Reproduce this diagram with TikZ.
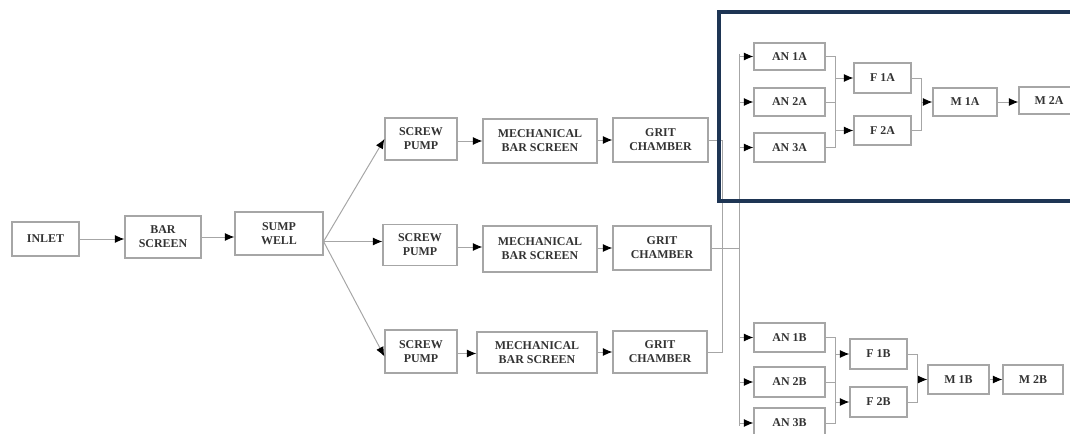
\documentclass[tikz,border=0pt]{standalone}
\usepackage{fontspec}
\setmainfont{Liberation Serif}
\usetikzlibrary{calc,arrows.meta}
\definecolor{navy}{HTML}{1E3554}

\begin{document}
\begin{tikzpicture}[x=0.25mm,y=-0.25mm,
    blk/.style 2 args={draw=gray!70, line width=0.8pt, text=black!80,
        font=\bfseries\fontsize{8.5}{10}\selectfont, align=center, inner sep=0pt,
        minimum width=#1*0.25mm, minimum height=#2*0.25mm},
    flow/.style={draw=gray!70, line width=0.7pt},
    arr/.style={flow, -{Latex[length=2.4mm,width=2mm,black]}}]
    \useasboundingbox (0,0) rectangle (1070,434);
    \clip (0,0) rectangle (1070,434);

    % intake
    \node[blk={67}{34}] (inlet) at (45.5,239) {INLET};
    \node[blk={76}{42}] (barscr) at (163,237) {BAR\\SCREEN};
    \node[blk={88}{43}] (sump) at (279,233.5) {SUMP\\WELL};
    \draw[arr] (inlet.east) -- (inlet.east -| barscr.west);
    \draw[arr] (barscr.east) -- (barscr.east -| sump.west);
    \coordinate (fan) at ($(sump.east)+(0,8)$);

    % three screening lines
    \node[blk={72}{42}] (pump1) at (421,139) {SCREW\\PUMP};
    \node[blk={114}{44}] (mech1) at (540,141) {MECHANICAL\\BAR SCREEN};
    \node[blk={95}{44}] (grit1) at (660.5,140) {GRIT\\CHAMBER};
    \node[blk={74}{41}] (pump2) at (420,245) {SCREW\\PUMP};
    \node[blk={114}{46}] (mech2) at (540,249) {MECHANICAL\\BAR SCREEN};
    \node[blk={98}{44}] (grit2) at (662,248) {GRIT\\CHAMBER};
    \node[blk={72}{43}] (pump3) at (421,351.5) {SCREW\\PUMP};
    \node[blk={120}{41}] (mech3) at (537,352.5) {MECHANICAL\\BAR SCREEN};
    \node[blk={94}{42}] (grit3) at (660,352) {GRIT\\CHAMBER};
    \draw[arr] (fan) -- (pump1.west);
    \draw[arr] (fan) -- (fan -| pump2.west);
    \draw[arr] (fan) -- ($(pump3.west)+(0,5)$);
    \foreach \i in {1,2,3} {
        \draw[arr] ($(pump\i.east)+(0,2)$) -- ($(pump\i.east -| mech\i.west)+(0,2)$);
        \draw[arr] (grit\i.west -| mech\i.east) -- (grit\i.west);
    }

    % collecting bus
    \coordinate (bustop) at (739,54);
    \coordinate (busbot) at (739,426);
    \draw[flow] (grit1.east) -| ($(grit3.east)+(15,0)$) -- (grit3.east);
    \draw[flow] (grit2.east) -- (grit2.east -| bustop);
    \draw[flow] (bustop) -- (busbot);

    % train A
    \node[blk={71}{27}] (an1a) at (789.5,56.5) {AN 1A};
    \node[blk={71}{28}] (an2a) at (789.5,102) {AN 2A};
    \node[blk={71}{29}] (an3a) at (789.5,147.5) {AN 3A};
    \node[blk={57}{30}] (f1a) at (882.5,78) {F 1A};
    \node[blk={57}{29}] (f2a) at (882.5,130.5) {F 2A};
    \node[blk={64}{28}] (m1a) at (965,102) {M 1A};
    \node[blk={60}{27}] (m2a) at (1049,100.5) {M 2A};

    % train B
    \node[blk={71}{29}] (an1b) at (789.5,337.5) {AN 1B};
    \node[blk={71}{30}] (an2b) at (789.5,382) {AN 2B};
    \node[blk={71}{30}] (an3b) at (789.5,423) {AN 3B};
    \node[blk={57}{30}] (f1b) at (878.5,354) {F 1B};
    \node[blk={57}{30}] (f2b) at (878.5,402) {F 2B};
    \node[blk={61}{29}] (m1b) at (958.5,379.5) {M 1B};
    \node[blk={60}{29}] (m2b) at (1033,379.5) {M 2B};

    \foreach \t in {a,b} {
        \foreach \i in {1,2,3}
            \draw[arr] (an\i\t.west -| bustop) -- (an\i\t.west);
        \coordinate (colan\t) at ($(an1\t.east)+(10,0)$);
        \draw[flow] (an1\t.east) -- (colan\t) |- (an3\t.east);
        \draw[flow] (an2\t.east) -- (an2\t.east -| colan\t);
        \draw[arr] (f1\t.west -| colan\t) -- (f1\t.west);
        \draw[arr] (f2\t.west -| colan\t) -- (f2\t.west);
        \coordinate (colf\t) at ($(f1\t.east)+(10,0)$);
        \draw[flow] (f1\t.east) -- (colf\t) |- (f2\t.east);
        \draw[arr] (m1\t.west -| colf\t) -- (m1\t.west);
        \draw[arr] (m1\t.east) -- (m1\t.east -| m2\t.west);
    }

    % highlight frame
    \draw[navy, line width=2.8pt] (719,12) rectangle (1080,201);
\end{tikzpicture}
\end{document}
